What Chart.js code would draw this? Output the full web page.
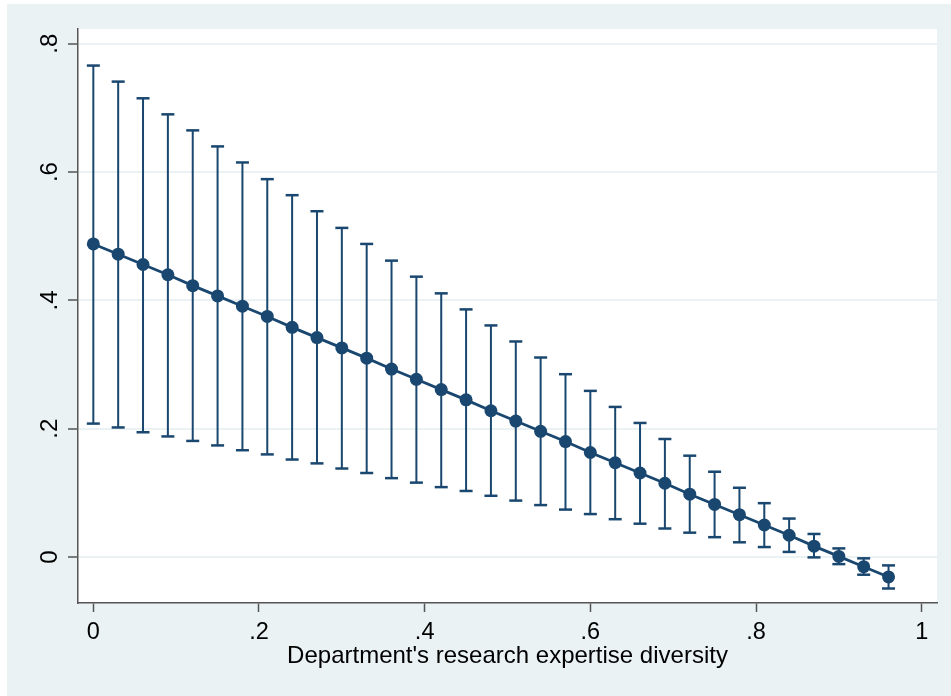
<!DOCTYPE html>
<html>
<head>
<meta charset="utf-8">
<script src="https://cdn.jsdelivr.net/npm/chart.js@4.4.0/dist/chart.umd.min.js"></script>
<style>
  html, body { margin: 0; padding: 0; background: #fff; }
  canvas { display: block; }
</style>
</head>
<body>
<canvas id="chart" width="951" height="696"></canvas>
<script>
// values
const diversity = [0, 0.03, 0.06, 0.09, 0.12, 0.15, 0.18, 0.21, 0.24, 0.27, 0.30, 0.33, 0.36, 0.39, 0.42, 0.45, 0.48,
  0.51, 0.54, 0.57, 0.60, 0.63, 0.66, 0.69, 0.72, 0.75, 0.78, 0.81, 0.84, 0.87, 0.90, 0.93, 0.96];
const margin = [0.488, 0.472, 0.456, 0.440, 0.423, 0.407, 0.391, 0.375, 0.358, 0.342, 0.326, 0.310, 0.293, 0.277,
  0.261, 0.245, 0.228, 0.212, 0.196, 0.180, 0.163, 0.147, 0.131, 0.115, 0.098, 0.082, 0.066, 0.050, 0.034,
  0.017, 0.001, -0.015, -0.031];
const ciLower = [0.208, 0.202, 0.1945, 0.188, 0.181, 0.174, 0.1665, 0.160, 0.152, 0.146, 0.138, 0.131, 0.123,
  0.116, 0.109, 0.103, 0.0955, 0.088, 0.081, 0.074, 0.067, 0.059, 0.052, 0.0445, 0.038, 0.031, 0.023, 0.0156,
  0.008, -0.0005, -0.011, -0.0275, -0.049];
const ciUpper = [0.766, 0.741, 0.715, 0.690, 0.665, 0.640, 0.615, 0.589, 0.564, 0.539, 0.513, 0.488, 0.462,
  0.437, 0.411, 0.386, 0.361, 0.336, 0.311, 0.285, 0.259, 0.234, 0.209, 0.184, 0.158, 0.133, 0.108, 0.084,
  0.060, 0.036, 0.0135, -0.002, -0.013];

const xTicks = [0, 0.2, 0.4, 0.6, 0.8, 1];
const xTickLabels = ['0', '.2', '.4', '.6', '.8', '1'];
const yTicks = [0, 0.2, 0.4, 0.6, 0.8];
const yTickLabels = ['0', '.2', '.4', '.6', '.8'];

const navy = '#1a476f';
const stataBg = '#eaf2f3';
const axisGray = '#555555';
const family = '"Liberation Sans", Arial, sans-serif';

// each interval: low point, high point, then a gap
const ciSegments = diversity.flatMap((x, i) => [
  { x: x, y: ciLower[i] },
  { x: x, y: ciUpper[i] },
  { x: x, y: null }
]);

const backgrounds = {
  id: 'backgrounds',
  beforeDraw(chart) {
    const { ctx, width, height, chartArea } = chart;
    ctx.save();
    ctx.fillStyle = '#fff';
    ctx.fillRect(0, 0, width, height);
    ctx.fillStyle = stataBg;
    ctx.fillRect(7, 4, width - 7, height - 4);
    ctx.fillStyle = '#fff';
    ctx.fillRect(chartArea.left, chartArea.top, chartArea.right - chartArea.left, chartArea.bottom - chartArea.top);
    ctx.restore();
  }
};

Chart.defaults.font.family = family;
Chart.defaults.color = '#000';

new Chart(document.getElementById('chart'), {
  type: 'line',
  data: {
    datasets: [
      {
        data: diversity.map((x, i) => ({ x: x, y: margin[i] })),
        borderColor: navy,
        backgroundColor: navy,
        borderWidth: 2.8,
        pointRadius: 6.5,
        pointBorderWidth: 0,
        tension: 0
      },
      {
        data: ciSegments,
        borderColor: navy,
        borderWidth: 2,
        pointStyle: 'line',
        pointRadius: 6.5,
        pointBorderColor: navy,
        pointBorderWidth: 2.5,
        spanGaps: false,
        tension: 0
      }
    ]
  },
  options: {
    responsive: false,
    animation: false,
    devicePixelRatio: 1,
    layout: { padding: { left: 0, top: 29, right: 14, bottom: 0 } },
    plugins: {
      legend: { display: false },
      tooltip: { enabled: false }
    },
    scales: {
      x: {
        type: 'linear',
        min: -0.0185,
        max: 1.0185,
        afterFit(scale) { scale.height = 93; },
        afterBuildTicks(scale) { scale.ticks = xTicks.map(v => ({ value: v })); },
        grid: { drawOnChartArea: false, drawTicks: true, tickLength: 9, tickColor: axisGray, tickWidth: 1.5 },
        border: { display: true, color: axisGray, width: 1.5 },
        ticks: {
          font: { family: family, size: 23.5 },
          color: '#000',
          padding: 6,
          maxRotation: 0,
          callback: (v, i) => xTickLabels[i]
        },
        title: {
          display: true,
          text: "Department's research expertise diversity",
          font: { family: family, size: 24 },
          color: '#000',
          padding: { top: 0, bottom: 25 }
        }
      },
      y: {
        type: 'linear',
        min: -0.0716,
        max: 0.823,
        afterFit(scale) { scale.width = 78; },
        afterBuildTicks(scale) { scale.ticks = yTicks.map(v => ({ value: v })); },
        grid: { color: stataBg, lineWidth: 2, drawTicks: true, tickLength: 10, tickColor: axisGray, tickWidth: 1.5 },
        border: { display: true, color: axisGray, width: 1.5 },
        ticks: {
          font: { family: family, size: 24 },
          color: '#000',
          padding: 8,
          minRotation: 90,
          maxRotation: 90,
          crossAlign: 'center',
          callback: (v, i) => yTickLabels[i]
        }
      }
    }
  },
  plugins: [backgrounds]
});
</script>
</body>
</html>
